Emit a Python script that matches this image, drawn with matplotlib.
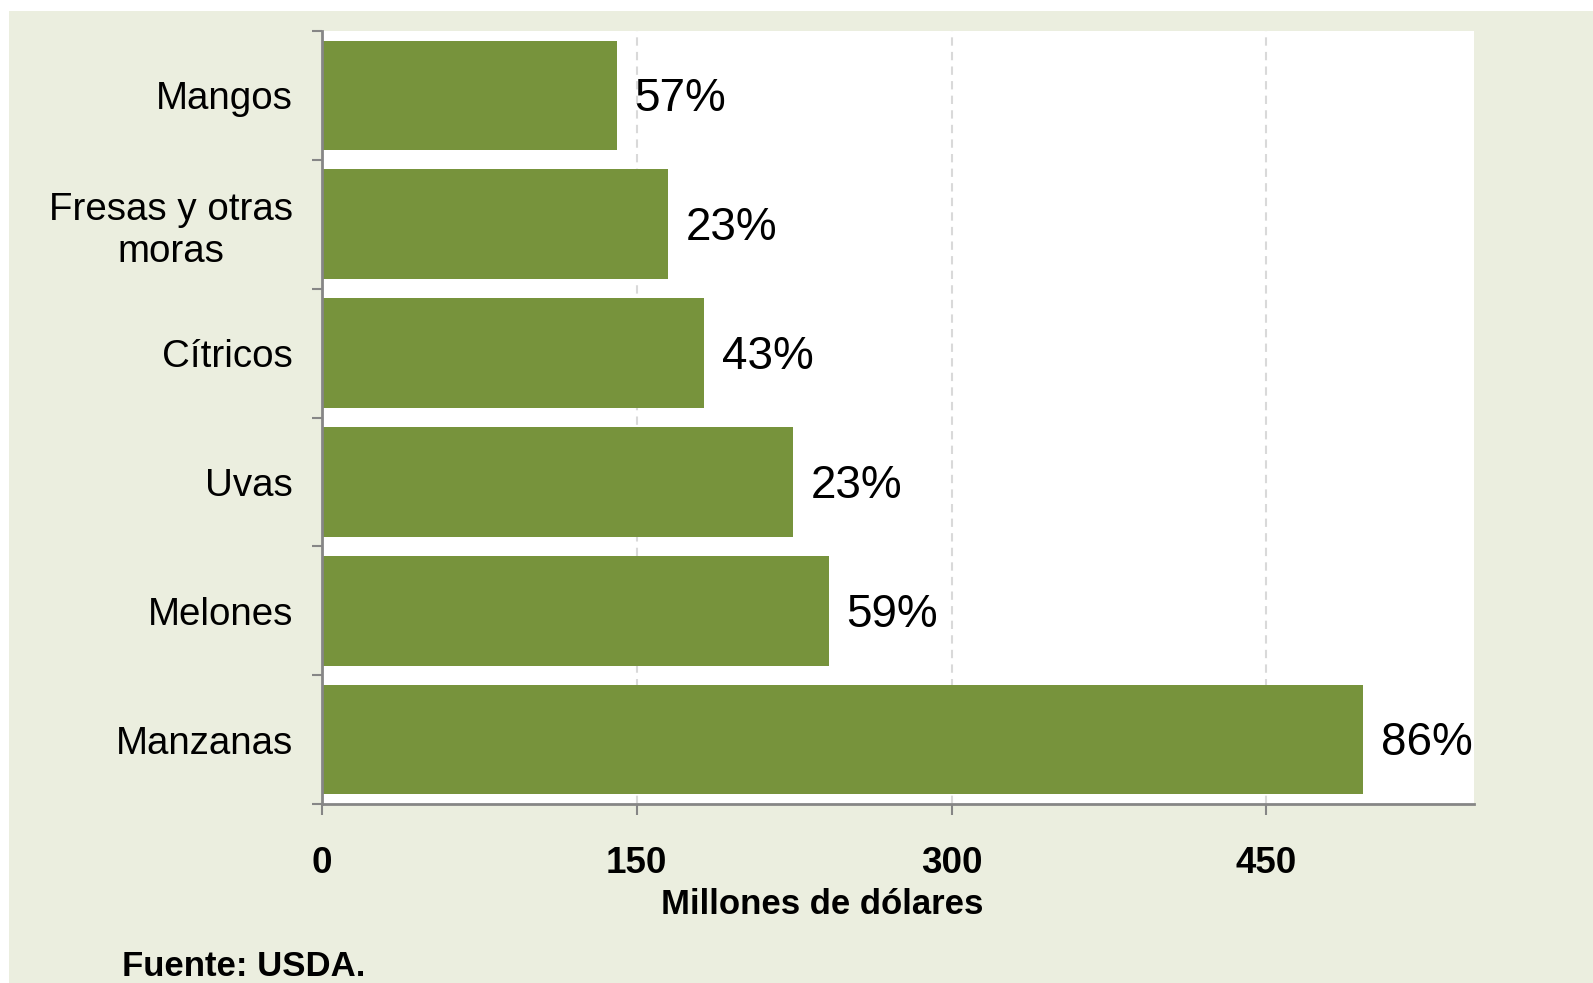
"""
plot.py — US fruit imports chart (Millones de dólares), horizontal bars.
"""

import matplotlib
matplotlib.use("Agg")
import matplotlib.pyplot as plt
from matplotlib.patches import Rectangle
import numpy as np

plt.rcParams["font.family"] = ["Liberation Sans", "DejaVu Sans"]

# data, top to bottom
categories = ["Mangos", "Fresas y otras\nmoras", "Cítricos", "Uvas", "Melones", "Manzanas"]
values = [140.5, 165, 182, 224.5, 241.5, 496]
pct_labels = ["57%", "23%", "43%", "23%", "59%", "86%"]
x_ticks = [0, 150, 300, 450]

BAR_COLOR = "#77933C"
BG_COLOR = "#EBEEDF"
AXIS_GRAY = "#868686"

fig = plt.figure(figsize=(15.93, 9.83), dpi=100, facecolor="white")
fig.patches.append(Rectangle((9 / 1593, 0), 1, 1 - 11 / 983, transform=fig.transFigure,
                             facecolor=BG_COLOR, edgecolor="none", zorder=-10))

ax = fig.add_axes([322 / 1593, 1 - 804 / 983, (1474 - 322) / 1593, (804 - 31) / 983])
ax.set_facecolor("white")

y = np.arange(len(categories))
ax.barh(y, values, height=0.85, color=BAR_COLOR, zorder=3)
for yi, v, lab in zip(y, values, pct_labels):
    ax.text(v + 8.5, yi + 0.03, lab, va="center", ha="left", fontsize=33, zorder=4)

ax.set_xlim(0, 549)
ax.set_ylim(len(categories) - 0.5, -0.5)

# x axis
ax.set_xticks(x_ticks)
ax.set_xticklabels([str(t) for t in x_ticks], fontsize=26.5, fontweight="bold")
ax.tick_params(axis="x", direction="out", length=8, width=1.5, color=AXIS_GRAY, pad=22)
ax.xaxis.grid(True, linestyle=(0, (4, 3)), color="#D9D9D9", linewidth=1.5, zorder=0)

# y axis: ticks at category boundaries, labels at centres
ax.set_yticks(np.arange(-0.5, len(categories), 1.0))
ax.set_yticklabels([])
ax.tick_params(axis="y", which="major", direction="out", length=7, width=1.5, color=AXIS_GRAY)
ax.set_yticks(y, minor=True)
ax.set_yticklabels(categories, minor=True, fontsize=27.7, multialignment="center")
ax.tick_params(axis="y", which="minor", length=0, pad=21)

for side in ["top", "right"]:
    ax.spines[side].set_visible(False)
for side in ["left", "bottom"]:
    ax.spines[side].set_color(AXIS_GRAY)
    ax.spines[side].set_linewidth(2)
    ax.spines[side].set_zorder(5)

fig.text(822 / 1593, 1 - 904 / 983, "Millones de dólares", ha="center", va="center",
         fontsize=25, fontweight="bold")
fig.text(122 / 1593, 1 - 966 / 983, "Fuente: USDA.", ha="left", va="center",
         fontsize=25, fontweight="bold")

fig.savefig("out.png", dpi=100, facecolor=fig.get_facecolor())
plt.close(fig)
